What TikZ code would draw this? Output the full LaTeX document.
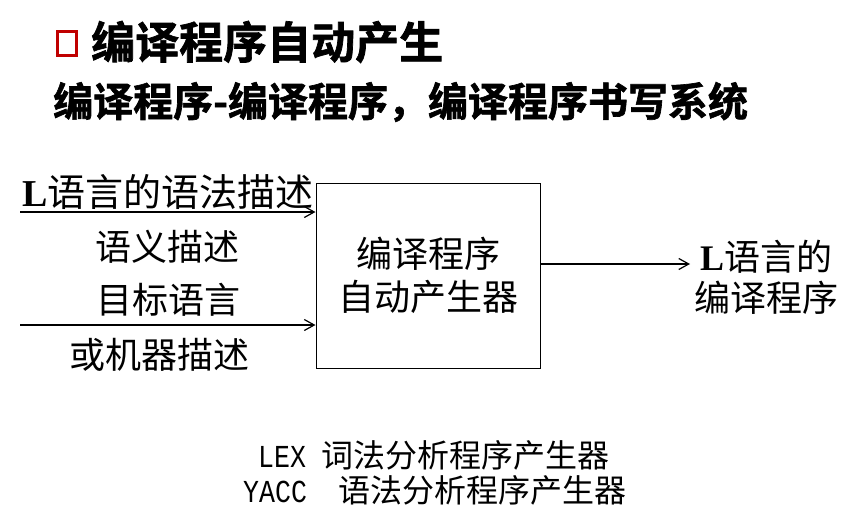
\documentclass[tikz,border=0pt]{standalone}
\usepackage{fontspec}
\setmainfont{Liberation Serif}
\newfontfamily\cjk{Noto Sans CJK SC}
\newfontfamily\cjkheavy[FakeBold=1.6]{Noto Sans CJK SC Bold}
\newfontfamily\monof[FakeStretch=0.83]{Liberation Mono}
\usetikzlibrary{arrows.meta}
\definecolor{boxred}{RGB}{192,0,0}
\tikzset{
  cjktext/.style={font=\cjk\fontsize{36}{43}\selectfont, inner sep=0pt},
  feed/.style={-{Straight Barb[length=10pt,width=11pt]}, line width=1.2pt},
}
\begin{document}
\begin{tikzpicture}[x=1pt, y=-1pt]
  \useasboundingbox (0,0) rectangle (865,530);
  \draw[boxred, line width=3pt] (57,31) rectangle (76,55);
  \node[anchor=west, inner sep=0pt, font=\cjkheavy\fontsize{44}{48}\selectfont] (title) at (91,42) {编译程序自动产生};
  \node[anchor=west, inner sep=0pt, font=\cjkheavy\fontsize{40}{44}\selectfont] (subtitle) at (53,102) {编译程序-编译程序，编译程序书写系统};
  \node[draw, line width=1pt, minimum width=224pt, minimum height=185pt, align=center, cjktext] (gen) at (428,275.5) {编译程序\\自动产生器};
  \coordinate (in1) at (20,212);
  \coordinate (in2) at (20,325);
  \coordinate (out) at (690,264);
  \draw[feed] (in1) -- (in1 -| gen.west);
  \draw[feed] (in2) -- (in2 -| gen.west);
  \draw[feed] (out -| gen.east) -- (out);
  \node[cjktext, anchor=west, font=\cjk\fontsize{38}{43}\selectfont] (syntax) at (22,192) {{\rmfamily\bfseries L}语言的语法描述};
  \foreach \x/\y/\t [count=\i] in {167/247/语义描述, 168/300/目标语言, 159/355/或机器描述}
    \node[cjktext] (lab\i) at (\x,\y) {\t};
  \node[cjktext, align=center, font=\cjk\fontsize{36}{41}\selectfont] (res) at (766,277.5) {{\rmfamily\bfseries L}语言的\\编译程序};
  \node[anchor=west, inner sep=0pt, font=\cjk\fontsize{32}{36}\selectfont] (lex) at (258,455) {{\monof LEX\ }词法分析程序产生器};
  \node[anchor=west, inner sep=0pt, font=\cjk\fontsize{32}{36}\selectfont] (yacc) at (243,490) {{\monof YACC\ \ }语法分析程序产生器};
\end{tikzpicture}
\end{document}
